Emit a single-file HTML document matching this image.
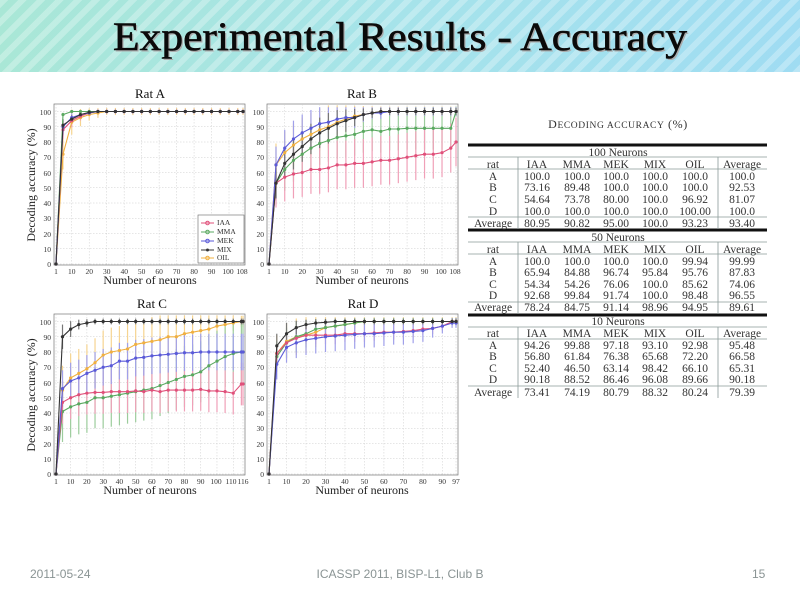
<!DOCTYPE html>
<html><head><meta charset="utf-8">
<style>
html,body{margin:0;padding:0;background:#fff;}
body{width:800px;height:598px;overflow:hidden;position:relative;}
#hdr{position:absolute;left:0;top:0;width:800px;height:72px;
background:repeating-linear-gradient(135deg,rgba(255,255,255,0.28) 0 6px,rgba(255,255,255,0) 6px 13px),linear-gradient(90deg,#a9e7d6,#a6e3ea 50%,#9fdcf2);}
svg{position:absolute;left:0;top:0;}
.tk{font-family:"Liberation Serif",serif;font-size:7.5px;fill:#333;}
.ax{font-family:"Liberation Serif",serif;font-size:12px;fill:#222;}
.tt{font-family:"Liberation Serif",serif;font-size:13px;fill:#111;}
.tb{font-family:"Liberation Serif",serif;font-size:11.5px;fill:#333;text-anchor:middle;}
.ft{font-family:"Liberation Sans",sans-serif;font-size:12px;fill:#8a9494;}
</style></head><body>
<div id="hdr"></div>
<svg width="800" height="598" viewBox="0 0 800 598" xmlns="http://www.w3.org/2000/svg">
<text x="400" y="50" text-anchor="middle" font-family="Liberation Serif,serif" font-size="40" fill="#aaa" textLength="574" lengthAdjust="spacingAndGlyphs" transform="translate(1.5,1.5)">Experimental Results - Accuracy</text>
<text x="400" y="50" text-anchor="middle" font-family="Liberation Serif,serif" font-size="40" fill="#0a0a0a" stroke="#0a0a0a" stroke-width="0.6" textLength="574" lengthAdjust="spacingAndGlyphs">Experimental Results - Accuracy</text>

<g id="chartA"></g><g id="chartB" transform="translate(213,0)"></g>
<g id="chartC" transform="translate(0,210)"></g><g id="chartD" transform="translate(213,210)"></g>

<text class="tt" x="150" y="98" text-anchor="middle">Rat A</text>
<text class="tt" x="362" y="98" text-anchor="middle">Rat B</text>
<text class="tt" x="152" y="308" text-anchor="middle" font-size="14">Rat C</text>
<text class="tt" x="363" y="308" text-anchor="middle" font-size="14">Rat D</text>
<text class="ax" x="150" y="284" text-anchor="middle">Number of neurons</text>
<text class="ax" x="362" y="284" text-anchor="middle">Number of neurons</text>
<text class="ax" x="150" y="494" text-anchor="middle">Number of neurons</text>
<text class="ax" x="362" y="494" text-anchor="middle">Number of neurons</text>
<text class="ax" transform="translate(35,185) rotate(-90)" text-anchor="middle">Decoding accuracy (%)</text>
<text class="ax" transform="translate(35,395) rotate(-90)" text-anchor="middle">Decoding accuracy (%)</text>

<g class="tk" text-anchor="end">
<text x="51" y="267">0</text><text x="51" y="252">10</text><text x="51" y="237">20</text><text x="51" y="221">30</text><text x="51" y="206">40</text><text x="51" y="191">50</text><text x="51" y="176">60</text><text x="51" y="160">70</text><text x="51" y="145">80</text><text x="51" y="130">90</text><text x="51" y="115">100</text>
<text x="264" y="267">0</text><text x="264" y="252">10</text><text x="264" y="237">20</text><text x="264" y="221">30</text><text x="264" y="206">40</text><text x="264" y="191">50</text><text x="264" y="176">60</text><text x="264" y="160">70</text><text x="264" y="145">80</text><text x="264" y="130">90</text><text x="264" y="115">100</text>
<text x="51" y="477">0</text><text x="51" y="462">10</text><text x="51" y="447">20</text><text x="51" y="431">30</text><text x="51" y="416">40</text><text x="51" y="401">50</text><text x="51" y="386">60</text><text x="51" y="370">70</text><text x="51" y="355">80</text><text x="51" y="340">90</text><text x="51" y="325">100</text>
<text x="264" y="477">0</text><text x="264" y="462">10</text><text x="264" y="447">20</text><text x="264" y="431">30</text><text x="264" y="416">40</text><text x="264" y="401">50</text><text x="264" y="386">60</text><text x="264" y="370">70</text><text x="264" y="355">80</text><text x="264" y="340">90</text><text x="264" y="325">100</text>
</g>
<g class="tk" text-anchor="middle">
<text x="56" y="274">1</text><text x="71.7" y="274">10</text><text x="89.2" y="274">20</text><text x="106.7" y="274">30</text><text x="124.2" y="274">40</text><text x="141.6" y="274">50</text><text x="159.1" y="274">60</text><text x="176.6" y="274">70</text><text x="194.1" y="274">80</text><text x="211.6" y="274">90</text><text x="228" y="274">100</text><text x="242" y="274">108</text>
<text x="269" y="274">1</text><text x="284.7" y="274">10</text><text x="302.2" y="274">20</text><text x="319.7" y="274">30</text><text x="337.2" y="274">40</text><text x="354.6" y="274">50</text><text x="372.1" y="274">60</text><text x="389.6" y="274">70</text><text x="407.1" y="274">80</text><text x="424.6" y="274">90</text><text x="441" y="274">100</text><text x="455" y="274">108</text>
<text x="56" y="484">1</text><text x="70.6" y="484">10</text><text x="86.9" y="484">20</text><text x="103.2" y="484">30</text><text x="119.4" y="484">40</text><text x="135.7" y="484">50</text><text x="151.9" y="484">60</text><text x="168.2" y="484">70</text><text x="184.5" y="484">80</text><text x="200.7" y="484">90</text><text x="216" y="484">100</text><text x="231" y="484">110</text><text x="243" y="484">116</text>
<text x="269" y="484">1</text><text x="286.5" y="484">10</text><text x="306" y="484">20</text><text x="325.5" y="484">30</text><text x="344.9" y="484">40</text><text x="364.4" y="484">50</text><text x="383.9" y="484">60</text><text x="403.4" y="484">70</text><text x="422.9" y="484">80</text><text x="442.3" y="484">90</text><text x="456" y="484">97</text>
</g>

<g>
<rect x="198" y="215" width="46" height="48" fill="#fff" stroke="#666" stroke-width="0.6"/>
<line x1="201" y1="223" x2="214" y2="223" stroke="#e0507a"/><circle cx="207.5" cy="223" r="1.8" fill="none" stroke="#e0507a"/>
<line x1="201" y1="232" x2="214" y2="232" stroke="#5aa860"/><circle cx="207.5" cy="232" r="1.8" fill="none" stroke="#5aa860"/>
<line x1="201" y1="241" x2="214" y2="241" stroke="#5a5ad8"/><circle cx="207.5" cy="241" r="1.8" fill="none" stroke="#5a5ad8"/>
<line x1="201" y1="250" x2="214" y2="250" stroke="#333"/><circle cx="207.5" cy="250" r="1.5" fill="#333"/>
<line x1="201" y1="258" x2="214" y2="258" stroke="#f0b040"/><circle cx="207.5" cy="258" r="1.8" fill="none" stroke="#f0b040"/>
<g class="tk" font-size="6.5"><text x="217" y="225">IAA</text><text x="217" y="234">MMA</text><text x="217" y="243">MEK</text><text x="217" y="252">MIX</text><text x="217" y="260">OIL</text></g>
</g>

<!-- Table -->
<text x="618" y="128" text-anchor="middle" font-family="Liberation Serif,serif" font-size="12" fill="#333" letter-spacing="0.6">D<tspan font-size="9.5">ECODING ACCURACY</tspan> (%)</text>
<g stroke="#111" stroke-width="3"><line x1="468" y1="145" x2="767" y2="145"/><line x1="468" y1="230" x2="767" y2="230"/><line x1="468" y1="315" x2="767" y2="315"/></g>
<g stroke="#8a9a98" stroke-width="0.8">
<line x1="468" y1="157" x2="767" y2="157"/><line x1="468" y1="169" x2="767" y2="169"/><line x1="468" y1="217" x2="767" y2="217"/>
<line x1="468" y1="242" x2="767" y2="242"/><line x1="468" y1="254" x2="767" y2="254"/><line x1="468" y1="302" x2="767" y2="302"/>
<line x1="468" y1="327" x2="767" y2="327"/><line x1="468" y1="339" x2="767" y2="339"/><line x1="468" y1="386" x2="767" y2="386"/>
<line x1="518" y1="157" x2="518" y2="229"/><line x1="718" y1="157" x2="718" y2="229"/>
<line x1="518" y1="242" x2="518" y2="314"/><line x1="718" y1="242" x2="718" y2="314"/>
<line x1="518" y1="327" x2="518" y2="398"/><line x1="718" y1="327" x2="718" y2="398"/>
</g>
<g class="tb">
<text x="618" y="156">100 Neurons</text>
<text x="493" y="168">rat</text><text x="537" y="168">IAA</text><text x="577" y="168">MMA</text><text x="616" y="168">MEK</text><text x="655" y="168">MIX</text><text x="695" y="168">OIL</text><text x="742" y="168">Average</text>
<text x="493" y="180">A</text><text x="537" y="180">100.0</text><text x="577" y="180">100.0</text><text x="616" y="180">100.0</text><text x="655" y="180">100.0</text><text x="695" y="180">100.0</text><text x="742" y="180">100.0</text>
<text x="493" y="191">B</text><text x="537" y="191">73.16</text><text x="577" y="191">89.48</text><text x="616" y="191">100.0</text><text x="655" y="191">100.0</text><text x="695" y="191">100.0</text><text x="742" y="191">92.53</text>
<text x="493" y="203">C</text><text x="537" y="203">54.64</text><text x="577" y="203">73.78</text><text x="616" y="203">80.00</text><text x="655" y="203">100.0</text><text x="695" y="203">96.92</text><text x="742" y="203">81.07</text>
<text x="493" y="215">D</text><text x="537" y="215">100.0</text><text x="577" y="215">100.0</text><text x="616" y="215">100.0</text><text x="655" y="215">100.0</text><text x="695" y="215">100.00</text><text x="742" y="215">100.0</text>
<text x="493" y="227">Average</text><text x="537" y="227">80.95</text><text x="577" y="227">90.82</text><text x="616" y="227">95.00</text><text x="655" y="227">100.0</text><text x="695" y="227">93.23</text><text x="742" y="227">93.40</text>

<text x="618" y="241">50 Neurons</text>
<text x="493" y="253">rat</text><text x="537" y="253">IAA</text><text x="577" y="253">MMA</text><text x="616" y="253">MEK</text><text x="655" y="253">MIX</text><text x="695" y="253">OIL</text><text x="742" y="253">Average</text>
<text x="493" y="265">A</text><text x="537" y="265">100.0</text><text x="577" y="265">100.0</text><text x="616" y="265">100.0</text><text x="655" y="265">100.0</text><text x="695" y="265">99.94</text><text x="742" y="265">99.99</text>
<text x="493" y="276">B</text><text x="537" y="276">65.94</text><text x="577" y="276">84.88</text><text x="616" y="276">96.74</text><text x="655" y="276">95.84</text><text x="695" y="276">95.76</text><text x="742" y="276">87.83</text>
<text x="493" y="288">C</text><text x="537" y="288">54.34</text><text x="577" y="288">54.26</text><text x="616" y="288">76.06</text><text x="655" y="288">100.0</text><text x="695" y="288">85.62</text><text x="742" y="288">74.06</text>
<text x="493" y="299">D</text><text x="537" y="299">92.68</text><text x="577" y="299">99.84</text><text x="616" y="299">91.74</text><text x="655" y="299">100.0</text><text x="695" y="299">98.48</text><text x="742" y="299">96.55</text>
<text x="493" y="311">Average</text><text x="537" y="311">78.24</text><text x="577" y="311">84.75</text><text x="616" y="311">91.14</text><text x="655" y="311">98.96</text><text x="695" y="311">94.95</text><text x="742" y="311">89.61</text>

<text x="618" y="325">10 Neurons</text>
<text x="493" y="337">rat</text><text x="537" y="337">IAA</text><text x="577" y="337">MMA</text><text x="616" y="337">MEK</text><text x="655" y="337">MIX</text><text x="695" y="337">OIL</text><text x="742" y="337">Average</text>
<text x="493" y="349">A</text><text x="537" y="349">94.26</text><text x="577" y="349">99.88</text><text x="616" y="349">97.18</text><text x="655" y="349">93.10</text><text x="695" y="349">92.98</text><text x="742" y="349">95.48</text>
<text x="493" y="360">B</text><text x="537" y="360">56.80</text><text x="577" y="360">61.84</text><text x="616" y="360">76.38</text><text x="655" y="360">65.68</text><text x="695" y="360">72.20</text><text x="742" y="360">66.58</text>
<text x="493" y="372">C</text><text x="537" y="372">52.40</text><text x="577" y="372">46.50</text><text x="616" y="372">63.14</text><text x="655" y="372">98.42</text><text x="695" y="372">66.10</text><text x="742" y="372">65.31</text>
<text x="493" y="383">D</text><text x="537" y="383">90.18</text><text x="577" y="383">88.52</text><text x="616" y="383">86.46</text><text x="655" y="383">96.08</text><text x="695" y="383">89.66</text><text x="742" y="383">90.18</text>
<text x="493" y="396">Average</text><text x="537" y="396">73.41</text><text x="577" y="396">74.19</text><text x="616" y="396">80.79</text><text x="655" y="396">88.32</text><text x="695" y="396">80.24</text><text x="742" y="396">79.39</text>
</g>

<text class="ft" x="30" y="578">2011-05-24</text>
<text class="ft" x="400" y="578" text-anchor="middle">ICASSP 2011, BISP-L1, Club B</text>
<text class="ft" x="752" y="578">15</text>
</svg>
<script>
var NS="http://www.w3.org/2000/svg";
function el(p,t,a){var e=document.createElementNS(NS,t);for(var k in a)e.setAttribute(k,a[k]);p.insertBefore(e,p.firstChild&&t!=="rect"?null:p.firstChild);return e;}
var cols={IAA:"#e0507a",MMA:"#5aa860",MEK:"#5a5ad8",MIX:"#333333",OIL:"#f0b040"};
var light={IAA:"#f0a0b8",MMA:"#9ccc9c",MEK:"#a0a0ea",MIX:"#777",OIL:"#f6d490"};
function draw(id,N,ticks,data,sd){
 var g=document.getElementById(id);
 var L=54,R=245,T=104,B=265;
 function X(n){return 56+(n-1)/(N-1)*187;}
 function Y(v){return 264-v*1.525;}
 el(g,"rect",{x:L,y:T,width:R-L,height:B-T,fill:"#fff",stroke:"#777","stroke-width":0.7});
 for(var i=0;i<=10;i++)el(g,"line",{x1:L,x2:R,y1:Y(i*10),y2:Y(i*10),stroke:"#ccc","stroke-width":0.5,"stroke-dasharray":"1.5,1.5"});
 ticks.forEach(function(t){el(g,"line",{x1:X(t),x2:X(t),y1:T,y2:B,stroke:"#ccc","stroke-width":0.5,"stroke-dasharray":"1.5,1.5"});});
 var xs=[1];for(var n=5;n<N;n+=5)xs.push(n);xs.push(N);
 ["OIL","MMA","IAA","MEK","MIX"].forEach(function(k){
  var v=[0].concat(data[k]);
  for(var i=1;i<v.length&&i<xs.length;i++){var s=sd[k]*Math.min(1,(101-v[i])/12+0.15);
   el(g,"line",{x1:X(xs[i]),x2:X(xs[i]),y1:Y(Math.min(104,v[i]+s)),y2:Y(Math.max(0,v[i]-s)),stroke:light[k],"stroke-width":1.2});}
 });
 ["OIL","MMA","IAA","MEK","MIX"].forEach(function(k){
  var v=[0].concat(data[k]);var d="";
  for(var i=0;i<v.length&&i<xs.length;i++)d+=(i?"L":"M")+X(xs[i]).toFixed(1)+","+Y(v[i]).toFixed(1);
  el(g,"path",{d:d,fill:"none",stroke:cols[k],"stroke-width":1.1});
  for(var i=0;i<v.length&&i<xs.length;i++)el(g,"circle",{cx:X(xs[i]),cy:Y(v[i]),r:1.6,fill:cols[k]});
 });
}
function fill(a,n){while(a.length<n)a.push(a[a.length-1]);return a;}
var tAB=[1,10,20,30,40,50,60,70,80,90,100,108];
draw("chartA",108,tAB,{
 IAA:fill([88,94,97,99,100],22),MMA:fill([98,100,100,100],22),MEK:fill([90,96,98,99,100],22),
 MIX:fill([91,95,98,99.5,100],22),OIL:fill([72,93,96,98,99,100],22)},
 {IAA:6,MMA:3,MEK:5,MIX:4,OIL:10});
draw("chartB",108,tAB,{
 MEK:fill([65,76,82,86,89,92,93,95,96,96,98,99,99,100],22),
 OIL:fill([65,73,78,82,85,88,90,93,95,97,98,99,100],22),
 MIX:fill([53,66,72,77,82,86,89,92,94,96,98,99,100],22),
 MMA:[53,62,68,72,76,79,81,83,84,85,87,88,87,88.5,88.5,89,89,89,89,89,89,100],
 IAA:[53,57,59,60,62,62,63,65,65,66,66,67,68,68,69,70,71,72,72,73,76,80]},
 {IAA:16,MMA:14,MEK:12,MIX:10,OIL:14});
draw("chartC",116,[1,10,20,30,40,50,60,70,80,90,100,110,116],{
 MIX:fill([90,95,98,99,100],24),
 OIL:[55,63,66,69,73,78,80,81,82,85,86,87,88,90,90,92,93,94,95,97,98,99,100,100],
 MEK:[56,61,63,66,68,70,71,74,74,76,76.5,77.5,78,78.5,79,79.5,79.5,80,80,80,80,80,80,80],
 IAA:[47,50,52,53,53.5,53.5,54,54,54,54.5,54,55,54,55,55,55,55,55.5,54.5,54.5,54,53,59,59],
 MMA:[41,44,46,47,50,50,51,52,53,54,55,56,58,60,62,64,65,67,71,74,77,79,80,80]},
 {IAA:14,MMA:20,MEK:12,MIX:8,OIL:16});
draw("chartD",97,[1,10,20,30,40,50,60,70,80,90,97],{
 MIX:fill([84,92,96,98,99,99.5,100],20),
 MMA:fill([77,86,90,92,95,96,97,98,99,100],20),
 OIL:fill([79,87,90,91,93,96,97,98,99,100],20),
 IAA:[79,86,89,91,91,91,91,92,92,92,92.5,93,93,93.5,94,95,95.5,97,100,100],
 MEK:[72,83,86,88,89,90,90.5,91,91.5,92,92,92.5,93,93,93.5,94,95.5,97,99,99]},
 {IAA:6,MMA:10,MEK:10,MIX:8,OIL:12});
</script>
</body></html>
